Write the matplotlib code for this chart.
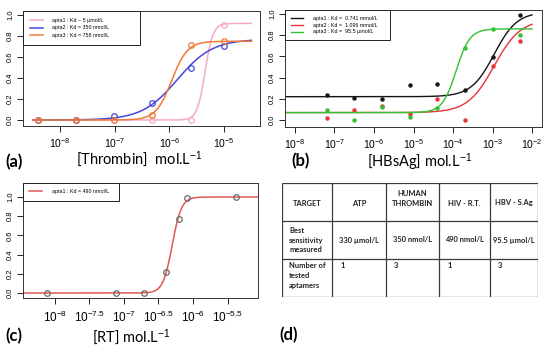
import numpy as np
import matplotlib
matplotlib.use('Agg')
import matplotlib.pyplot as plt

plt.rcParams['font.family'] = ['Liberation Sans', 'DejaVu Sans']
plt.rcParams['mathtext.fontset'] = 'custom'
plt.rcParams['mathtext.rm'] = 'Liberation Sans'
plt.rcParams['mathtext.it'] = 'Liberation Sans:italic'
plt.rcParams['mathtext.bf'] = 'Liberation Sans:bold'

# (a) thrombin binding
thr_conc = [3.9e-9, 1.95e-8, 9.8e-8, 4.9e-7, 2.45e-6, 1e-5]
thr_apta1 = [0, 0, 0, 0, 0, 0.905]
thr_apta2 = [0, 0.003, 0.04, 0.16, 0.50, 0.70]
thr_apta3 = [0, 0, 0, 0.05, 0.71, 0.75]
thr_labels = ['apta1 : Kd ~ 5 µmol/L', 'apta2 : Kd = 350 nmol/L', 'apta3 : Kd = 758 nmol/L']
thr_colors = ['#f6aac8', '#4646e0', '#f07a36']
# fitted curves: bottom, top, K, hill
thr_fits = [(0, 0.92, 4.5e-6, 6), (0, 0.77, 1.4e-6, 1.35), (0, 0.75, 1.1e-6, 3)]

# (b) HBsAg binding
hbs_conc = [6.4e-8, 3.2e-7, 1.6e-6, 8e-6, 4e-5, 2e-4, 1e-3, 5e-3]
hbs_apta1 = [0.24, 0.21, 0.195, 0.335, 0.34, 0.28, 0.59, 0.99]
hbs_apta2 = [0.02, 0.095, 0.13, 0.06, 0.195, 0.0, 0.51, 0.75]
hbs_apta3 = [0.095, 0.0, 0.125, 0.03, 0.11, 0.68, 0.86, 0.80]
hbs_labels = ['apta1 : Kd =  0.741 mmol/L', 'apta2 : Kd =  1.096 mmol/L', 'apta3 : Kd =  95.5 µmol/L']
hbs_colors = ['#151515', '#e83434', '#34c034']
hbs_fits = [(0.22, 1.02, 1.1e-3, 1.5), (0.07, 0.95, 1.1e-3, 1.3), (0.07, 0.86, 1.2e-4, 2.5)]

# (c) RT binding
rt_conc = [7.6e-9, 7.8e-8, 1.97e-7, 4e-7, 6.2e-7, 8.1e-7, 4.2e-6]
rt_apta1 = [0, 0, 0, 0.22, 0.775, 0.99, 1.0]
rt_label = 'apta1 : Kd = 490 nmol/L'
rt_fit = (0, 1.0, 5e-7, 6.5)
rt_exps = [-8, -7.5, -7, -6.5, -6, -5.5]

# (d) summary table
row_titles = ['TARGET', 'Best\nsensitivity\nmeasured', 'Number of\ntested\naptamers']
targets = ['ATP', 'HUMAN\nTHROMBIN', 'HIV - R.T.', 'HBV - S.Ag']
sensitivity = ['330 µmol/L', '350 nmol/L', '490 nmol/L', '95.5 µmol/L']
n_aptamers = [1, 3, 1, 3]


def hill(x, bottom, top, k, n):
    return bottom + (top - bottom) * x**n / (k**n + x**n)


W, H = 550, 351
fig = plt.figure(figsize=(W / 100, H / 100), dpi=100)


def px_axes(l, t, r, b):
    return fig.add_axes([l / W, 1 - b / H, (r - l) / W, (b - t) / H])


def style(ax, labelsize=7.5, pad=3.0):
    ax.set_yticks([0, 0.2, 0.4, 0.6, 0.8, 1.0])
    ax.set_yticklabels(['0.0', '0.2', '0.4', '0.6', '0.8', '1.0'])
    ax.tick_params(axis='y', labelsize=5.5, length=4, width=0.6, pad=2.5, labelrotation=90)
    for t in ax.get_yticklabels():
        t.set_va('center')
    ax.tick_params(axis='x', which='major', labelsize=labelsize, length=4, width=0.6, pad=pad)
    ax.tick_params(axis='x', which='minor', length=0)
    for s in ax.spines.values():
        s.set_linewidth(0.7)
        s.set_color('#333333')


def legend(ax, w, fs=3.8, spacing=0.35, bpad=1.1):
    lg = ax.legend(loc='upper left', bbox_to_anchor=(0, 0, w, 1), mode='expand',
                   borderaxespad=0, fontsize=fs, fancybox=False, framealpha=1,
                   edgecolor='#222222', handlelength=2.4, handletextpad=1.8,
                   labelspacing=spacing, borderpad=bpad)
    lg.get_frame().set_linewidth(0.7)


# ---- (a)
ax = px_axes(23, 11, 260, 126)
xs = np.logspace(-8.5, -4.5, 300)
for y, fit, lab, c in zip([thr_apta1, thr_apta2, thr_apta3], thr_fits, thr_labels, thr_colors):
    ax.plot(xs, hill(xs, *fit), color=c, lw=1.1, label=lab)
    ax.plot(thr_conc, y, 'o', mfc='none', mec=c, ms=4, mew=0.9)
ax.set_xscale('log')
ax.set_xlim(10**-8.677, 10**-4.342)
ax.set_ylim(-0.057, 1.038)
ax.set_xticks([10.0**e for e in range(-8, -4)])
ax.set_xticklabels(['$10^{%d}$' % e for e in range(-8, -4)])
style(ax)
legend(ax, 0.494, spacing=0.5, bpad=1.3)

# ---- (b)
ax = px_axes(285, 10, 542, 127)
xs = np.logspace(-8.25, -2, 300)
for y, fit, lab, c in zip([hbs_apta1, hbs_apta2, hbs_apta3], hbs_fits, hbs_labels, hbs_colors):
    ax.plot(xs, hill(xs, *fit), color=c, lw=1.0, label=lab)
    ax.plot(hbs_conc, y, 'o', color=c, ms=2.2)
ax.set_xscale('log')
ax.set_xlim(10**-8.253, 10**-1.747)
ax.set_ylim(-0.066, 1.038)
ax.set_xticks([10.0**e for e in range(-8, -1)])
ax.set_xticklabels(['$10^{%d}$' % e for e in range(-8, -1)])
style(ax)
legend(ax, 0.41)

# ---- (c)
ax = px_axes(23, 183, 258, 298)
xs = np.logspace(-8.46, -5.06, 300)
ax.plot(xs, hill(xs, *rt_fit), color='#e05858', lw=1.1, label=rt_label)
ax.plot(rt_conc, rt_apta1, 'o', mfc='none', mec='#6a6a6a', ms=4, mew=0.9)
ax.set_xscale('log')
ax.set_xlim(10**-8.46, 10**-5.06)
ax.set_ylim(-0.052, 1.146)
ax.set_xticks([10.0**e for e in rt_exps])
ax.set_xticklabels(['$10^{%g}$' % e for e in rt_exps])
style(ax, labelsize=8.5, pad=4.5)
legend(ax, 0.41, bpad=1.2)

# ---- (d) table
ax = px_axes(282, 183, 538, 297)
ax.set_xlim(0, 256)
ax.set_ylim(114, 0)
ax.axis('off')
col_edges = [0, 50, 104, 157, 208, 256]
row_edges = [0, 38, 76, 114]
ax.hlines(row_edges, 0, 256, color='#3a3a3a', lw=0.9)
ax.vlines(col_edges, 0, 114, color='#3a3a3a', lw=0.9)
tfont = dict(family=['Lato', 'DejaVu Sans'], fontsize=5.4, fontweight='bold',
             color='#222222', linespacing=1.45)
ax.text(col_edges[0] + 25, 23.5, row_titles[0], ha='center', va='bottom', **tfont)
ax.text(7, 57, row_titles[1], ha='left', va='center', **tfont)
ax.text(7, 79.5, row_titles[2], ha='left', va='top', **tfont)
for i in range(4):
    l, r = col_edges[i + 1], col_edges[i + 2]
    ax.text((l + r) / 2, 23.5, targets[i], ha='center', va='bottom', **tfont)
    ax.text((l + r) / 2, 57, sensitivity[i], ha='center', va='center', **tfont)
    ax.text(l + 8, 79.5, str(n_aptamers[i]), ha='left', va='top', **tfont)

# ---- labels
lfont = dict(family=['Lato', 'DejaVu Sans'], fontsize=10.5, ha='center', va='center')
fig.text(139 / W, 1 - 159 / H, '[Thrombin]  mol.L$^{-1}$', **lfont)
fig.text(420 / W, 1 - 162 / H, '[HBsAg] mol.L$^{-1}$', **lfont)
fig.text(131 / W, 1 - 337 / H, '[RT] mol.L$^{-1}$', **lfont)
pfont = dict(family=['Lato', 'DejaVu Sans'], fontsize=12, fontweight='bold', ha='center', va='center')
fig.text(14 / W, 1 - 162 / H, '(a)', **pfont)
fig.text(301 / W, 1 - 161 / H, '(b)', **pfont)
fig.text(14 / W, 1 - 336 / H, '(c)', **pfont)
fig.text(289 / W, 1 - 335 / H, '(d)', **pfont)

fig.savefig('out.png', dpi=100)
